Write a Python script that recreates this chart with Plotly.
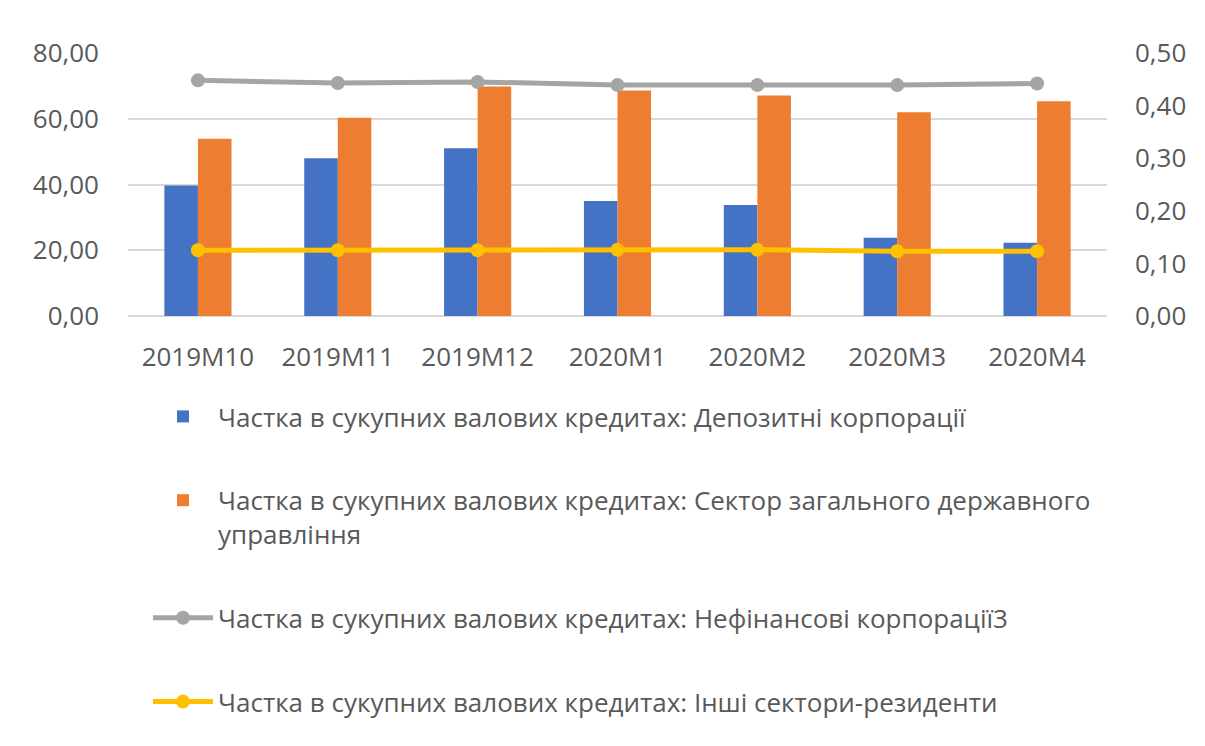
import plotly.graph_objects as go

# Monthly periods
periods = ["2019M10", "2019M11", "2019M12", "2020M1", "2020M2", "2020M3", "2020M4"]

# Shares in total gross loans (left axis)
deposit_corps = [39.7, 48.0, 51.0, 35.0, 33.8, 23.8, 22.3]
general_gov = [53.9, 60.3, 69.8, 68.6, 67.1, 62.0, 65.3]

# Shares in total gross loans (right axis)
nonfin_corps = [0.448, 0.443, 0.445, 0.439, 0.439, 0.439, 0.442]
other_residents = [0.125, 0.125, 0.125, 0.126, 0.126, 0.123, 0.123]

names = [
    "Частка в сукупних валових кредитах: Депозитні корпорації",
    "Частка в сукупних валових кредитах: Сектор загального державного<br>управління",
    "Частка в сукупних валових кредитах: Нефінансові корпорації3",
    "Частка в сукупних валових кредитах: Інші сектори-резиденти",
]

TEXT = "#595959"
GRID = "#d9d9d9"
FONT = "Open Sans"

fig = go.Figure()
fig.add_trace(go.Bar(x=periods, y=deposit_corps, name=names[0], legendgroup="a",
                     marker=dict(color="#4472C4", line=dict(width=0))))
fig.add_trace(go.Bar(x=periods, y=general_gov, name=names[1], legendgroup="b",
                     marker=dict(color="#ED7D31", line=dict(width=0))))
fig.add_trace(go.Scatter(x=periods, y=nonfin_corps, name=names[2], legendgroup="c",
                         yaxis="y2", mode="lines+markers",
                         line=dict(color="#A5A5A5", width=5),
                         marker=dict(color="#A5A5A5", size=14)))
fig.add_trace(go.Scatter(x=periods, y=other_residents, name=names[3], legendgroup="d",
                         yaxis="y2", mode="lines+markers",
                         line=dict(color="#FFC000", width=5),
                         marker=dict(color="#FFC000", size=14)))

fig.update_layout(
    width=1205, height=746,
    margin=dict(l=128, r=98, t=53, b=430, autoexpand=False),
    paper_bgcolor="white", plot_bgcolor="white",
    separators=", ",
    font=dict(family=FONT, color=TEXT, size=26),
    barmode="group", bargap=0.52, bargroupgap=0,
    xaxis=dict(showgrid=False, showline=False, ticks="",
               tickfont=dict(size=26, color=TEXT), ticklabelstandoff=23),
    yaxis=dict(range=[0, 80], dtick=20, tickformat=".2f",
               showgrid=True, gridcolor=GRID, gridwidth=2,
               zeroline=True, zerolinecolor=GRID, zerolinewidth=2,
               showline=False, ticks="", tickfont=dict(size=26, color=TEXT),
               ticklabelstandoff=28),
    yaxis2=dict(range=[0, 0.5], dtick=0.1, tickformat=".2f", overlaying="y",
                side="right", showgrid=False, zeroline=False, showline=False,
                ticks="", tickfont=dict(size=26, color=TEXT),
                ticklabelstandoff=27),
    legend=dict(orientation="v", x=148 / 1205, xref="container", xanchor="left",
                y=1 - 393 / 746, yref="container", yanchor="top",
                font=dict(size=26, color=TEXT), tracegroupgap=47,
                valign="top", itemwidth=60, bgcolor="rgba(0,0,0,0)",
                traceorder="grouped"),
    showlegend=True,
)

fig.write_html("out.html")
